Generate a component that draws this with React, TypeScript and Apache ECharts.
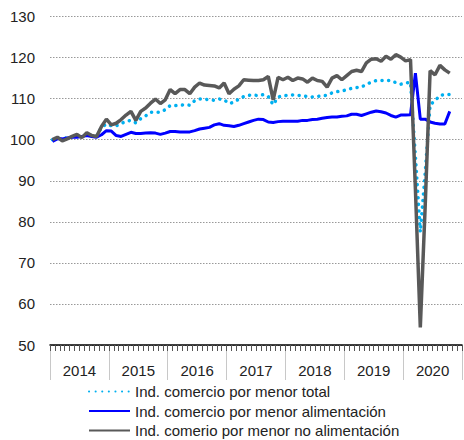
import React, { useEffect, useRef } from "react";
import * as echarts from "echarts";

const years = ["2014", "2015", "2016", "2017", "2018", "2019", "2020"];
const monthsPerYear = ["01", "02", "03", "04", "05", "06", "07", "08", "09", "10", "11", "12"];
const yTicks = { min: 50, max: 130, interval: 10 };

const seriesNames = [
  "Ind. comercio por menor total",
  "Ind. comercio por menor alimentación",
  "Ind. comerio por menor no alimentación",
];

// Jan 2014 .. Oct 2020
const totalValues = [
  100, 100.3, 100.2, 100.5, 100.7, 100.9, 100.7, 101.3, 101, 100.8, 103, 103.8,
  103.4, 103.4, 103.9, 104.5, 104.7, 104.1, 105.1, 105.8, 106.7, 106.7, 106.7, 107.3,
  108.3, 108.3, 108.4, 108.5, 108.4, 109.5, 109.9, 109.9, 109.7, 109.6, 109.9, 109.7,
  108.8, 109.1, 109.9, 110.5, 110.8, 110.9, 110.7, 111, 110.5, 108.5, 110.4, 110.7,
  110.8, 110.9, 110.8, 110.7, 110.5, 110.4, 110.5, 110.7, 110.8, 111.4, 111.7, 111.8,
  112.2, 112.5, 112.7, 112.8, 113.5, 114, 114.4, 114.4, 114.4, 114.4, 113.9, 113.5,
  113.8, 114, 96, 77.5, 92, 108.5, 109.5, 110.8, 111, 111,
];

const foodValues = [
  99.6, 100.2, 100.2, 100.4, 100.6, 100.6, 100.8, 101, 100.8, 100.6, 101.2, 102.2,
  102.1, 101, 100.8, 101.3, 101.8, 101.5, 101.5, 101.6, 101.7, 101.6, 101.3, 101.6,
  102, 102, 101.9, 101.9, 101.9, 102.2, 102.6, 102.8, 103, 103.6, 103.9, 103.5,
  103.4, 103.2, 103.5, 103.9, 104.3, 104.7, 105, 104.9, 104.3, 104.2, 104.4, 104.5,
  104.5, 104.5, 104.5, 104.7, 104.7, 104.9, 105, 105.2, 105.4, 105.5, 105.5, 105.7,
  105.8, 106.2, 106.2, 105.9, 106.3, 106.7, 107, 106.8, 106.5, 105.9, 105.5, 106,
  106, 106.1, 116.2, 105, 105, 104.3, 104, 103.8, 103.8, 106.9,
];

const nonFoodValues = [
  100, 100.6, 99.7, 100.2, 100.8, 101.3, 100.5, 101.7, 101, 100.8, 103.2, 105,
  103.6, 104, 104.9, 106, 106.9, 104.7, 106.9, 107.7, 108.9, 109.9, 108.8, 109.7,
  112.2, 111.2, 112.2, 112.2, 111.2, 112.8, 113.8, 113.3, 113.2, 113.1, 112.6, 113.8,
  111.2, 112.3, 113.1, 114.6, 114.5, 114.4, 114.4, 114.6, 115.4, 109.7, 115.2, 114.6,
  115.2, 114.4, 115, 114.8, 114, 115, 114.4, 114.2, 112.8, 115, 115.6, 114.6,
  115.6, 116.6, 116.9, 116.6, 118.7, 119.6, 119.7, 119.1, 120.3, 119.6, 120.7, 120.1,
  119.2, 119.5, 88, 54.3, 84, 116.8, 115.8, 118.1, 117, 116.2,
];

const monthCategories: string[] = [];
years.forEach((y) => monthsPerYear.forEach((m) => monthCategories.push(`${y}-${m}`)));

const FONT = "Liberation Sans, Arial, sans-serif";

export default function App() {
  const ref = useRef<HTMLDivElement>(null);

  useEffect(() => {
    document.body.style.margin = "0";
    if (!ref.current) return;
    const chart = echarts.init(ref.current, undefined, { renderer: "svg" });
    chart.setOption({
      animation: false,
      textStyle: { fontFamily: FONT },
      grid: { left: 50, right: 2, top: 16.5, bottom: 95, containLabel: false },
      legend: {
        orient: "vertical",
        left: 88,
        top: 384,
        height: 60,
        padding: 0,
        itemWidth: 41,
        itemHeight: 14,
        itemGap: 4.5,
        itemStyle: { opacity: 0 },
        textStyle: { fontSize: 15, color: "#222", fontFamily: FONT },
        data: seriesNames,
      },
      xAxis: [
        {
          type: "category",
          data: monthCategories,
          boundaryGap: true,
          axisLine: { show: true, lineStyle: { color: "#000", width: 1.5 } },
          axisTick: { show: true, interval: 0, length: 6, lineStyle: { color: "#555", width: 1 } },
          axisLabel: { show: false },
          splitLine: { show: false },
          z: 3,
        },
        {
          type: "category",
          data: years,
          position: "bottom",
          boundaryGap: true,
          axisLine: { show: false },
          axisTick: { show: true, interval: 0, length: 35, lineStyle: { color: "#c8c8c8", width: 1 } },
          axisLabel: { show: true, interval: 0, fontSize: 15, color: "#222", margin: 18, fontFamily: FONT },
          splitLine: { show: false },
        },
      ],
      yAxis: {
        type: "value",
        min: yTicks.min,
        max: yTicks.max,
        interval: yTicks.interval,
        axisLine: { show: false },
        axisTick: { show: false },
        axisLabel: { fontSize: 15, color: "#222", margin: 15, fontFamily: FONT },
        splitLine: { show: true, lineStyle: { color: "#999", width: 1, type: [1.5, 1.5] } },
      },
      series: [
        {
          name: seriesNames[0],
          type: "line",
          data: totalValues,
          symbol: "circle",
          symbolSize: 0,
          showSymbol: false,
          lineStyle: { color: "#00B0F0", width: 3.5, type: [0.1, 6.5], cap: "round" },
          itemStyle: { color: "#00B0F0" },
        },
        {
          name: seriesNames[1],
          type: "line",
          data: foodValues,
          symbol: "circle",
          symbolSize: 0,
          showSymbol: false,
          lineStyle: { color: "#0000FF", width: 3 },
          itemStyle: { color: "#0000FF" },
        },
        {
          name: seriesNames[2],
          type: "line",
          data: nonFoodValues,
          symbol: "circle",
          symbolSize: 0,
          showSymbol: false,
          lineStyle: { color: "#595959", width: 3.5 },
          itemStyle: { color: "#595959" },
        },
      ],
    });
    return () => chart.dispose();
  }, []);

  return <div ref={ref} style={{ width: 464, height: 440 }} />;
}
